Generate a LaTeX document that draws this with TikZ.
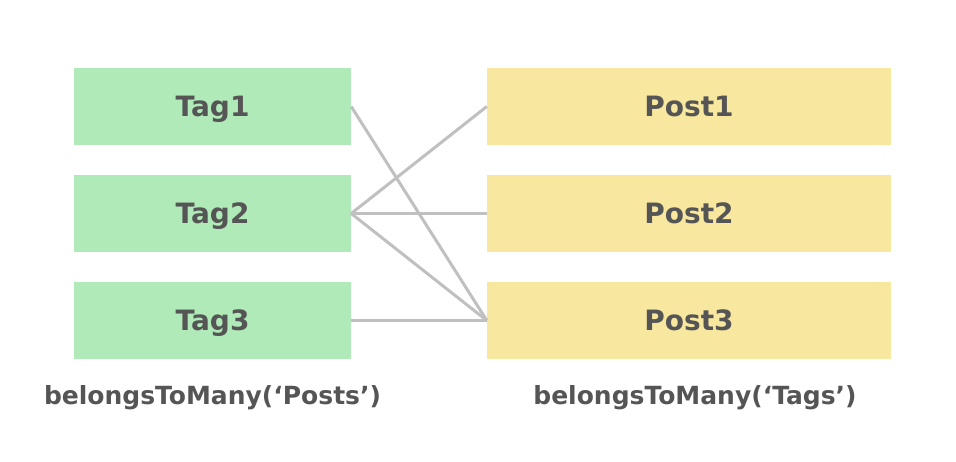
\documentclass[tikz,border=0pt]{standalone}
\usepackage{fontspec}
\setmainfont{DejaVu Sans}
\usetikzlibrary{positioning}
\definecolor{taggreen}{HTML}{B0EAB8}
\definecolor{postyellow}{HTML}{F8E79E}
\definecolor{labelgray}{HTML}{555555}
\definecolor{linkgray}{HTML}{C0C0C0}
\tikzset{
    %boxes
    tagbox/.style={
           rectangle,
           fill=taggreen,
           minimum width=277pt,
           minimum height=77pt,
           text height=20pt,
           text depth=0pt,
           text=labelgray,
           font=\fontsize{28}{32}\selectfont\bfseries},
    postbox/.style={
           tagbox,
           fill=postyellow,
           minimum width=404pt},
    caption/.style={
           text=labelgray,
           font=\fontsize{25}{30}\selectfont\bfseries},
    % links
    link/.style={
           draw=linkgray,
           line width=3pt}
}
\begin{document}
\begin{tikzpicture}[x=1pt,y=-1pt]
\useasboundingbox (0,0) rectangle (956,462);
 %nodes
\node[tagbox](tag1) at (212.5,106.5){Tag1};
\node[tagbox](tag2) at (212.5,213.5){Tag2};
\node[tagbox](tag3) at (212.5,320.5){Tag3};
\node[postbox](post1) at (689,106.5){Post1};
\node[postbox](post2) at (689,213.5){Post2};
\node[postbox](post3) at (689,320.5){Post3};
\node[caption](tagcap) at (212.5,398){belongsToMany(‘Posts’)};
\node[caption](postcap) at (695,398){belongsToMany(‘Tags’)};
 %links
\path[link]
    (tag1.east) edge (post3.west)
    (tag2.east) edge (post1.west) edge (post2.west) edge (post3.west)
    (tag3.east) edge (post3.west);
\end{tikzpicture}
\end{document}
